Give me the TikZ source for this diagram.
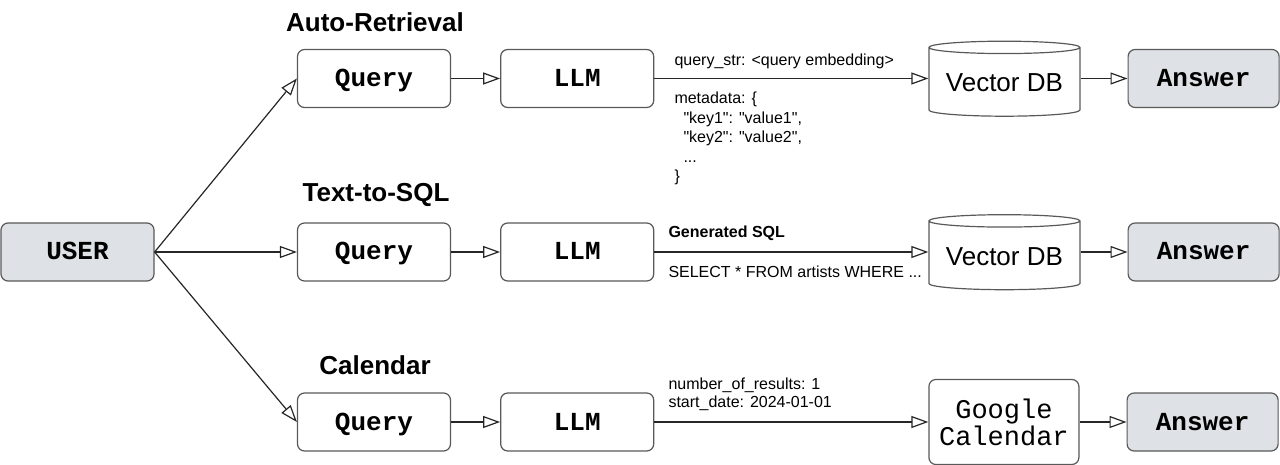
\documentclass[tikz,border=0pt]{standalone}
\usepackage{fontspec}
\setmainfont{Liberation Sans}[Ligatures=TeXOff]
\setmonofont{Liberation Mono}
\usetikzlibrary{positioning, calc, shapes.geometric}
\usetikzlibrary{arrows, arrows.meta}
\tikzset{>={Triangle[open, length=17pt, width=12pt]}}
\definecolor{boxgray}{HTML}{DEE1E5}
\colorlet{edgegray}{black!65}
\colorlet{linegray}{black!85}

\tikzset{
  stage/.style={draw=edgegray, line width=1.2pt, rounded corners=7pt, fill=white,
    minimum width=153pt, minimum height=58pt, text height=16pt, text depth=0pt,
    font=\fontsize{26}{30}\selectfont\ttfamily\bfseries},
  grey stage/.style={stage, fill=boxgray, minimum width=151pt},
  store/.style={cylinder, shape border rotate=90, aspect=0.1, draw=edgegray, line width=1.2pt,
    minimum width=151pt, minimum height=75pt, font=\fontsize{26}{30}\selectfont},
  title/.style={font=\fontsize{26}{30}\selectfont\bfseries, inner sep=0pt},
  lbl/.style={font=\fontsize{16}{19.5}\selectfont, inner sep=0pt, align=left},
  flow/.style={->, draw=linegray, line width=1.2pt},
}

\begin{document}
\begin{tikzpicture}[x=1pt, y=-1pt]
  \useasboundingbox (0,0) rectangle (1280,465);

  \node[grey stage, minimum width=153pt] (user) at (77.5,252) {USER};

  % Auto-Retrieval
  \node[stage] (q1) at (374,78.5) {Query};
  \node[stage, right=49pt of q1] (l1) {LLM};
  \node[store, right=274pt of l1, yshift=-4.5pt] (db1) {Vector DB};
  \node[grey stage, right=47pt of db1.east |- l1.east] (a1) {Answer};
  \node[title] (t1) at (375,22) {Auto-Retrieval};

  % Text-to-SQL
  \node[stage] (q2) at (374,252) {Query};
  \node[stage, right=49pt of q2] (l2) {LLM};
  \node[store, right=274pt of l2, yshift=-4.5pt] (db2) {Vector DB};
  \node[grey stage, right=47pt of db2.east |- l2.east] (a2) {Answer};
  \node[title] (t2) at (376,195) {Text-to-SQL};

  % Calendar
  \node[stage] (q3) at (374,422) {Query};
  \node[stage, right=49pt of q3] (l3) {LLM};
  \node[stage, right=274pt of l3, minimum width=150pt, minimum height=85pt, text height=, text depth=,
    align=center, font=\fontsize{27}{27}\selectfont\ttfamily] (cal) {Google\\Calendar};
  \node[grey stage, right=47pt of cal] (a3) {Answer};
  \node[title] (t3) at (375,365) {Calendar};

  % edge labels
  \node[lbl, anchor=west] (qstr) at ($(l1.east)+(20,-17.5)$) {query\_str: <query embedding>};
  \node[lbl, anchor=west] (meta) at ($(l1.east)+(20,60)$) {metadata: \{\\
    \hspace*{9pt}"key1": "value1",\\
    \hspace*{9pt}"key2": "value2",\\
    \hspace*{9pt}...\\
    \}};
  \node[lbl, anchor=west, font=\fontsize{16}{19.5}\selectfont\bfseries] (gsql) at ($(l2.east)+(14,-19)$) {Generated SQL};
  \node[lbl, anchor=west] (sel) at ($(l2.east)+(14,20)$) {SELECT * FROM artists WHERE ...};
  \node[lbl, anchor=west, font=\fontsize{16}{18}\selectfont] (args) at ($(l3.east)+(14,-28)$) {number\_of\_results: 1\\start\_date: 2024-01-01};

  \draw[flow] (user.east) -- (q1.west);
  \draw[flow] (user.east) -- (q2.west);
  \draw[flow] (user.east) -- (q3.west);
  \foreach \i/\s in {1/db1, 2/db2, 3/cal} {
    \draw[flow] (q\i) -- (l\i);
    \draw[flow] (l\i.east) -- (l\i.east -| \s.west);
    \draw[flow] (a\i.west -| \s.east) -- (a\i.west);
  }
\end{tikzpicture}
\end{document}
